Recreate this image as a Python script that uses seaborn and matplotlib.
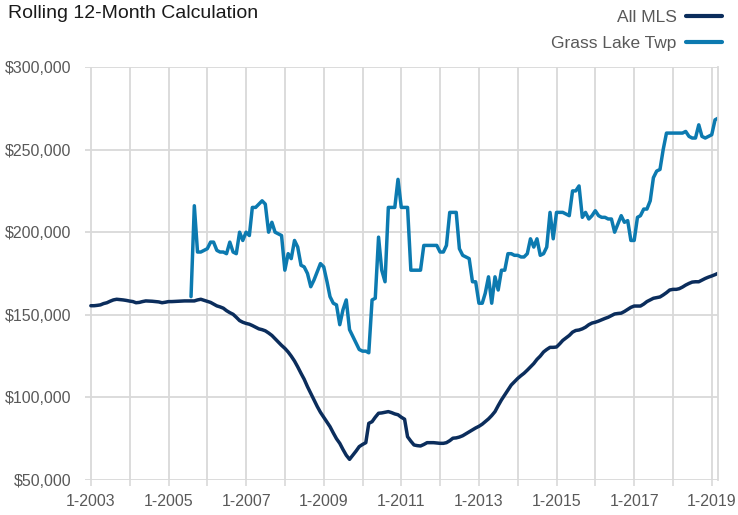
import numpy as np
import pandas as pd
import matplotlib
matplotlib.use("Agg")
import matplotlib.pyplot as plt
import matplotlib.ticker as mticker
import seaborn as sns
from matplotlib.lines import Line2D

# ---------------- data ----------------
title = "Rolling 12-Month Calculation"
series_names = ["All MLS", "Grass Lake Twp"]

all_mls_start = "2003-01-01"
# monthly rolling 12-month median price, in $ thousands
all_mls_k = [
    155.5, 155.5, 155.7, 156.0, 156.8, 157.3, 158.2, 159.0, 159.4, 159.2,
    159.0, 158.7, 158.3, 158.0, 157.3, 157.5, 158.0, 158.4, 158.3, 158.2,
    158.0, 157.8, 157.3, 157.6, 158.0, 158.0, 158.1, 158.2, 158.3, 158.4,
    158.4, 158.4, 158.4, 159.0, 159.4, 158.8, 158.2, 157.5, 156.5, 155.4,
    154.8, 154.0, 152.5, 151.3, 150.3, 148.5, 146.5, 145.5, 144.8, 144.3,
    143.5, 142.5, 141.5, 141.0, 140.3, 139.0, 137.5, 135.5, 133.5, 131.5,
    129.7, 127.5, 125.0, 122.0, 118.5, 114.6, 111.0, 106.5, 102.5, 98.5,
    94.5, 91.0, 88.0, 85.0, 82.3, 78.5, 75.0, 72.2, 68.5, 65.0,
    62.5, 65.0, 67.5, 70.2, 71.5, 72.6, 84.3, 85.3, 88.0, 90.4,
    90.6, 91.0, 91.4, 90.8, 90.0, 89.5, 88.0, 86.8, 76.2, 73.5,
    71.2, 70.8, 70.6, 71.5, 72.6, 72.6, 72.6, 72.4, 72.2, 72.2,
    72.6, 73.8, 75.3, 75.5, 76.0, 76.8, 78.0, 79.2, 80.3, 81.5,
    82.5, 83.8, 85.3, 87.0, 89.0, 91.4, 95.0, 98.5, 101.5, 104.5,
    107.5, 109.5, 111.5, 113.2, 114.6, 116.5, 118.5, 120.5, 123.0, 125.0,
    127.5, 129.0, 130.3, 130.3, 130.5, 132.5, 134.5, 136.0, 137.5, 139.5,
    140.5, 140.8, 141.5, 142.5, 144.0, 145.0, 145.5, 146.2, 147.0, 147.8,
    148.5, 149.5, 150.5, 150.8, 151.0, 152.0, 153.3, 154.5, 155.3, 155.3,
    155.3, 156.5, 158.0, 159.0, 160.0, 160.4, 160.8, 162.0, 163.4, 165.0,
    165.4, 165.4, 165.8, 166.8, 168.0, 169.0, 169.8, 170.0, 170.0, 171.0,
    172.0, 172.8, 173.5, 174.3, 175.1,
]

grass_start = "2005-08-01"
grass_k = [
    161, 216, 188, 188, 189, 190, 194, 194, 189, 188,
    188, 187, 194, 188, 187, 200, 195, 200, 198, 215,
    215, 217, 219, 217, 200, 206, 200, 199, 198, 177,
    187, 184, 195, 191, 180, 179, 175, 167, 171, 176,
    181, 179, 170, 161, 157, 156, 144, 153, 159, 141,
    137, 133, 129, 128, 128, 127, 159, 160, 197, 177,
    170, 215, 215, 215, 232, 215, 215, 215, 177, 177,
    177, 177, 192, 192, 192, 192, 192, 188, 188, 192,
    212, 212, 212, 190, 186, 185, 184, 170, 170, 157,
    157, 163, 173, 157, 173, 165, 177, 177, 187, 187,
    186, 186, 185, 185, 187, 196, 191, 196, 186, 187,
    191, 212, 196, 212, 212, 212, 211, 210, 225, 225,
    228, 209, 212, 208, 210, 213, 210, 209, 209, 208,
    208, 200, 205, 210, 206, 207, 195, 195, 209, 210,
    214, 214, 219, 233, 237, 238, 250, 260, 260, 260,
    260, 260, 260, 261, 258, 257, 257, 265, 258, 257,
    258, 259, 268, 269,
]

y_ticks = [50000, 100000, 150000, 200000, 250000, 300000]
x_tick_years = list(range(2003, 2020))
x_label_years = list(range(2003, 2020, 2))

# ---------------- style ----------------
dark = "#0b2d5c"
blue = "#0c7ab0"
grid_c = "#d9d9d9"
text_c = "#595959"

sns.set_theme(style="white")
plt.rcParams["font.family"] = ["Liberation Sans", "DejaVu Sans"]

fig = plt.figure(figsize=(7.38, 5.15), dpi=100)
W, H = 738, 515
ax = fig.add_axes([85 / W, 35 / H, 633 / W, 413 / H])

df_all = pd.DataFrame({
    "date": pd.date_range(all_mls_start, periods=len(all_mls_k), freq="MS"),
    "value": np.array(all_mls_k) * 1000,
})
df_grass = pd.DataFrame({
    "date": pd.date_range(grass_start, periods=len(grass_k), freq="MS"),
    "value": np.array(grass_k) * 1000,
})

sns.lineplot(data=df_all, x="date", y="value", color=dark, lw=2.5, ax=ax)
sns.lineplot(data=df_grass, x="date", y="value", color=blue, lw=2.5, ax=ax)

ax.set_ylim(50000, 300000)
ax.set_yticks(y_ticks)
ax.yaxis.set_major_formatter(mticker.FuncFormatter(lambda v, p: f"${v:,.0f}"))

left = pd.Timestamp(all_mls_start) - pd.Timedelta(days=55)
right = df_all["date"].iloc[-1]
ax.set_xlim(left, right)
ax.set_xticks([pd.Timestamp(f"{y}-01-01") for y in x_tick_years])
ax.set_xticklabels([f"1-{y}" if y in x_label_years else "" for y in x_tick_years])

ax.set_xlabel("")
ax.set_ylabel("")
ax.grid(True, color=grid_c, lw=1.3)
ax.set_axisbelow(True)
for s in ["left", "top", "bottom"]:
    ax.spines[s].set_visible(False)
ax.spines["right"].set_visible(True)
ax.spines["right"].set_color(grid_c)
ax.spines["right"].set_linewidth(1.3)

ax.tick_params(axis="x", length=4, width=1.2, colors=text_c,
               labelsize=11.5, pad=6, direction="out", bottom=True)
ax.tick_params(axis="x", color=grid_c)
ax.tick_params(axis="y", length=0, colors=text_c, labelsize=11.5, pad=10)

fig.text(8 / W, 1 - 13 / H, title, ha="left", va="center", fontsize=14, color="#1a1a1a")

handles = [Line2D([], [], color=dark, lw=3), Line2D([], [], color=blue, lw=3)]
ax.legend(handles, series_names, loc="upper right",
          bbox_to_anchor=(722 / W, 1 - 10 / H), bbox_transform=fig.transFigure,
          frameon=False, markerfirst=False, fontsize=12.5, labelcolor=text_c,
          handlelength=2.1, handletextpad=0.5, labelspacing=0.62,
          borderpad=0, borderaxespad=0)

fig.savefig("out.png", dpi=100)
